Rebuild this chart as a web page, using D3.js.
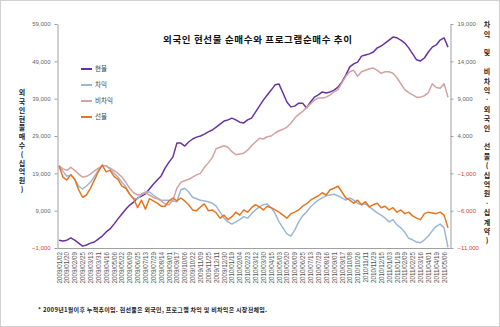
<!DOCTYPE html>
<html><head><meta charset="utf-8">
<script src="https://cdn.jsdelivr.net/npm/d3@7"></script>
<style>
html,body{margin:0;padding:0;background:#fff;}
svg{display:block;}
</style></head>
<body>
<svg id="chart" width="500" height="327"></svg>
<script>
// ---- data ----
const title = "외국인 현선물 순매수와 프로그램순매수 추이";
const leftTitle = "외국인현물매수(십억원)";
const rightTitle = "차익 및 비차익·외국인 선물(십억원·십계약)";
const footnote = "* 2009년1월이후 누적추이임. 현선물은 외국인, 프로그램 차익 및 비차익은 시장전체임.";
const seriesNames = ["현물", "차익", "비차익", "선물"];
const leftTicks = [-1000, 9000, 19000, 29000, 39000, 49000, 59000];
const rightTicks = [-11000, -6000, -1000, 4000, 9000, 14000, 19000];
const dateLabels = ["2009/01/02","2009/01/20","2009/02/09","2009/02/25","2009/03/13","2009/03/31","2009/04/16","2009/05/06","2009/05/22","2009/06/09","2009/06/25","2009/07/13","2009/07/29","2009/08/14","2009/09/01","2009/09/17","2009/10/06","2009/10/22","2009/11/09","2009/11/25","2009/12/11","2009/12/30","2010/01/19","2010/02/04","2010/02/23","2010/03/12","2010/03/30","2010/04/15","2010/05/03","2010/05/20","2010/06/09","2010/06/25","2010/07/13","2010/07/29","2010/08/16","2010/09/01","2010/09/17","2010/10/08","2010/10/26","2010/11/11","2010/11/29","2010/12/15","2011/01/03","2011/01/19","2011/02/09","2011/02/25","2011/03/16","2011/04/01","2011/04/19","2011/05/06"];
// cumulative values sampled twice per label interval
const hyeonmul = [1100,900,1100,1700,1100,300,-500,-200,300,600,1400,2200,3300,4100,5400,6800,8100,9400,10500,11300,12400,12900,13500,14800,16100,17200,18300,20400,22000,23400,27100,27100,26300,27400,28200,28700,29000,29500,30100,30600,31400,32200,33000,33300,33800,33300,32700,32500,33300,33800,35400,37000,38600,40000,41300,42700,42900,40500,38100,36800,37000,37800,37800,36500,38100,39400,40000,40800,40500,40800,41300,42100,43500,45300,47500,48300,48800,50400,50700,51000,51500,52600,53100,53900,54700,55500,55300,54700,53900,52600,51000,49400,49100,49900,51500,52800,53400,54700,55300,52800];
const chaik = [0,-700,-1400,-1200,-1800,-2700,-3100,-2700,-2200,-1400,-600,100,0,-400,-1000,-1500,-2200,-2800,-3800,-4400,-4400,-3800,-3500,-3500,-3900,-4300,-4600,-4600,-4600,-4700,-4800,-3200,-3000,-3500,-4200,-4400,-4600,-4700,-4800,-5000,-5400,-6200,-7000,-7500,-7800,-7500,-7200,-6800,-7000,-6400,-5900,-5500,-5200,-5100,-5600,-6400,-7500,-8300,-9100,-9400,-8600,-7500,-6700,-6200,-5500,-5000,-4600,-4300,-4000,-3900,-3800,-4000,-4300,-4600,-4300,-4600,-5000,-5200,-5100,-5500,-5900,-6300,-6600,-7000,-7500,-7200,-7900,-8300,-8900,-9700,-9900,-10200,-10300,-9900,-9400,-8700,-8100,-7800,-8300,-10900];
const bichaik = [0,-400,-600,-200,-600,-1100,-1500,-1400,-1100,-700,-300,0,0,-300,-600,-1000,-1500,-2200,-3000,-3600,-3900,-3800,-3600,-3900,-4200,-4400,-4700,-5100,-5200,-4600,-3000,-2200,-2000,-1800,-1500,-1200,-1000,-200,400,1100,2300,2500,2700,2500,1900,1500,1600,1700,2100,2700,3200,3700,3600,3900,4000,4400,4700,4900,5200,5700,6400,6900,7300,7800,8300,8800,9100,9100,9200,9500,9900,10200,11100,12000,12600,12800,12000,12600,12800,13000,13100,12800,12400,12600,12600,12400,11800,11000,10200,9800,9500,9200,9200,9400,9800,11000,10500,10400,11000,9200];
const seonmul = [0,-1500,-1900,-1200,-1800,-3200,-4200,-3900,-3000,-1900,-800,100,-800,-600,-1400,-1800,-2700,-3000,-3800,-4400,-5600,-4600,-5800,-4400,-4700,-5000,-5400,-5400,-4700,-4300,-4700,-4300,-4700,-5200,-5900,-6000,-5500,-5100,-6000,-5900,-6300,-7000,-6600,-7200,-6800,-6200,-6600,-5900,-6200,-5600,-5200,-5500,-5900,-5400,-5600,-5900,-6200,-6600,-7000,-6400,-6200,-5900,-5400,-5100,-4600,-4300,-4000,-3600,-3900,-3200,-3000,-2700,-3500,-4300,-4600,-5000,-4600,-5200,-4800,-5500,-5200,-5000,-5600,-5400,-5900,-5600,-6200,-5900,-6400,-6200,-6700,-7000,-7200,-6400,-6200,-6300,-6400,-6200,-6600,-8300];
const colors = ["#6a32a0", "#9bb7d6", "#d3a3a2", "#e6761d"];

// ---- drawing ----
const svg = d3.select("#chart");
const KR = "'Noto Sans CJK KR', 'Noto Sans', sans-serif";
const NUM = "'Liberation Sans', Arial, sans-serif";
svg.append("rect").attr("x",0.5).attr("y",0.5).attr("width",499).attr("height",326)
  .attr("fill","#fff").attr("stroke","#d0d0d0");

const pTop = 24, pBottom = 248, pLeft = 57.5, pRight = 450.5;
const x = d3.scaleLinear().domain([0, 49.5]).range([59, 448]);
const yL = d3.scaleLinear().domain([-1000, 59000]).range([pBottom, pTop]);
const yR = d3.scaleLinear().domain([-11000, 19000]).range([pBottom, pTop]);
const fmt = d3.format(",");
const axisColor = "#a0a0a0";

function styleAxis(g){
  g.select(".domain").attr("stroke", axisColor);
  g.selectAll(".tick line").attr("stroke", axisColor);
  g.selectAll(".tick text").attr("fill", d => d < 0 ? "#e03a3a" : "#666")
    .style("font-family", NUM).style("font-size","6px");
}
svg.append("g").attr("transform",`translate(${pLeft},0)`)
  .call(d3.axisLeft(yL).tickValues(leftTicks).tickFormat(fmt).tickSize(3).tickSizeOuter(0).tickPadding(4))
  .call(styleAxis);
svg.append("g").attr("transform",`translate(${pRight},0)`)
  .call(d3.axisRight(yR).tickValues(rightTicks).tickFormat(fmt).tickSize(3).tickSizeOuter(0).tickPadding(4))
  .call(styleAxis);

const xAxis = svg.append("g").attr("transform",`translate(0,${pBottom})`)
  .call(d3.axisBottom(x).tickValues(d3.range(dateLabels.length)).tickFormat(i => dateLabels[i]).tickSize(0).tickSizeOuter(0));
xAxis.select(".domain").attr("d", `M${pLeft},0.5H${pRight}`).attr("stroke", axisColor);
xAxis.selectAll(".tick text")
  .attr("transform","rotate(-90)").attr("text-anchor","end")
  .attr("x",-4).attr("y",0).attr("dy","0.33em")
  .attr("fill","#555").style("font-family", NUM).style("font-size","6.3px");

// lines
const series = [
  {vals: hyeonmul, y: yL, c: colors[0]},
  {vals: chaik, y: yR, c: colors[1]},
  {vals: bichaik, y: yR, c: colors[2]},
  {vals: seonmul, y: yR, c: colors[3]}
];
series.forEach(s => {
  const line = d3.line().x((d,i) => x(i/2)).y(d => s.y(d));
  svg.append("path").datum(s.vals).attr("d", line)
    .attr("fill","none").attr("stroke", s.c).attr("stroke-width",1.5)
    .attr("stroke-linejoin","round");
});

// legend
const legY = [69, 85, 101, 117];
seriesNames.forEach((n,i) => {
  svg.append("line").attr("x1",81).attr("x2",92).attr("y1",legY[i]).attr("y2",legY[i])
    .attr("stroke", colors[i]).attr("stroke-width",2);
  svg.append("text").attr("x",95).attr("y",legY[i]).attr("dy","0.35em")
    .attr("fill","#444").style("font-family", KR).style("font-size","6.5px").text(n);
});

// titles
svg.append("text").attr("x",163).attr("y",40).attr("dy","0.35em")
  .attr("textLength",189).attr("lengthAdjust","spacing")
  .style("font-family", KR).style("font-weight","bold").style("font-size","9.5px")
  .attr("fill","#111").text(title);

svg.append("text").attr("x",22).attr("y",89)
  .style("writing-mode","vertical-rl").style("text-orientation","upright")
  .style("font-family", KR).style("font-weight","bold").style("font-size","7px")
  .style("letter-spacing","1.8px").attr("fill","#222").text(leftTitle);

svg.append("text").attr("x",487).attr("y",21)
  .style("writing-mode","vertical-rl").style("text-orientation","upright")
  .style("font-family", KR).style("font-weight","bold").style("font-size","7px")
  .style("letter-spacing","2.4px").attr("fill","#222").text(rightTitle);

svg.append("text").attr("x",38).attr("y",310).attr("dy","0.35em")
  .attr("textLength",229).attr("lengthAdjust","spacing")
  .style("font-family", KR).style("font-weight","bold").style("font-size","6px")
  .attr("fill","#222").text(footnote);
</script>
</body></html>
